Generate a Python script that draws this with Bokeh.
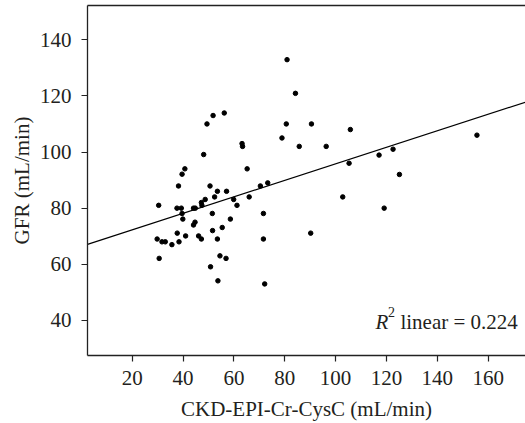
from bokeh.plotting import figure
from bokeh.models import Range1d, LinearAxis, FixedTicker, Label, ColumnDataSource
from bokeh.embed import file_html
from bokeh.resources import INLINE

# Data
ckd_epi = [80.9, 84.2, 51.8, 56.2, 30.4, 37.6, 39.3, 39.9, 39.6, 38.2,
           39.6, 40.7, 48.1, 49.4, 44.1, 44.8, 47.2, 47.4, 48.7, 50.6,
           52.4, 53.5, 57.1, 51.5, 58.6, 59.9, 61.2, 63.2, 63.4, 65.2,
           66.0, 70.4, 73.3, 71.6, 78.9, 80.6, 85.7, 90.5, 96.3, 44.1,
           44.7, 29.8, 31.7, 33.0, 35.6, 37.7, 38.4, 41.0, 46.1, 47.2,
           51.6, 53.5, 55.4, 30.6, 50.8, 54.5, 56.9, 53.7, 71.6, 72.1,
           90.2, 105.8, 105.3, 117.1, 122.6, 125.1, 102.8, 119.1, 155.6]
gfr = [132.9, 120.9, 113.0, 113.9, 81.0, 80.0, 80.0, 76.1, 78.1, 87.9,
       92.1, 94.0, 99.1, 110.0, 80.0, 80.0, 82.0, 81.0, 83.1, 87.9,
       84.0, 86.0, 86.0, 78.1, 76.1, 83.1, 81.0, 103.0, 102.0, 94.0,
       84.0, 87.9, 89.0, 78.1, 105.0, 110.0, 102.0, 110.0, 102.0, 74.0,
       75.0, 69.0, 68.0, 68.0, 67.0, 71.1, 68.0, 70.1, 70.1, 69.0,
       72.0, 69.0, 73.1, 62.1, 59.1, 63.0, 62.1, 54.1, 69.0, 53.0,
       71.1, 108.0, 96.0, 98.9, 101.0, 92.0, 84.0, 80.0, 106.0]

fit_intercept = 66.4
fit_slope = 0.294
r2_text = "linear = 0.224"

x_ticks = [20, 40, 60, 80, 100, 120, 140, 160]
y_ticks = [40, 60, 80, 100, 120, 140]

x_lo, x_hi = 2.4, 174.7
y_lo, y_hi = 27.5, 152.2

FONT = "Liberation Serif"
TXT = "#231f20"

p = figure(frame_width=438, frame_height=350, output_backend="svg",
           toolbar_location=None,
           x_range=Range1d(x_lo, x_hi), y_range=Range1d(y_lo, y_hi),
           min_border_left=87, min_border_top=5, min_border_right=0,
           min_border_bottom=0)
p.background_fill_color = "white"
p.border_fill_color = "white"
p.outline_line_color = None
p.xgrid.visible = False
p.ygrid.visible = False

for ax in (p.xaxis[0], p.yaxis[0]):
    ax.axis_line_color = "#222222"
    ax.axis_line_width = 1.3
    ax.major_tick_line_color = "#222222"
    ax.major_tick_line_width = 1.2
    ax.major_tick_out = 6
    ax.major_tick_in = 0
    ax.minor_tick_line_color = None
    ax.major_label_text_font = FONT
    ax.major_label_text_font_size = "21px"
    ax.major_label_text_color = TXT
    ax.axis_label_text_font = FONT
    ax.axis_label_text_font_size = "21px"
    ax.axis_label_text_font_style = "normal"
    ax.axis_label_text_color = TXT

p.xaxis[0].ticker = FixedTicker(ticks=x_ticks)
p.yaxis[0].ticker = FixedTicker(ticks=y_ticks)
p.xaxis[0].axis_label = "CKD-EPI-Cr-CysC (mL/min)"
p.yaxis[0].axis_label = "GFR (mL/min)"
p.xaxis[0].major_label_standoff = 9
p.xaxis[0].axis_label_standoff = 9
p.yaxis[0].major_label_standoff = 10
p.yaxis[0].axis_label_standoff = 3

# Top border (right side is cut off in the reference)
top = LinearAxis(ticker=FixedTicker(ticks=[]), axis_line_color="#222222",
                 axis_line_width=1.3, major_tick_line_color=None,
                 minor_tick_line_color=None, major_label_text_font_size="0px")
p.add_layout(top, "above")

# Regression line
lx = [x_lo, x_hi]
ly = [fit_intercept + fit_slope * v for v in lx]
p.line(lx, ly, line_color="black", line_width=1.2)

src = ColumnDataSource(dict(x=ckd_epi, y=gfr))
p.scatter("x", "y", source=src, size=4.5, fill_color="black", line_color="black")

# R^2 annotation
p.add_layout(Label(x=115.7, y=39.3, text="R", text_font=FONT, text_font_size="21px",
                   text_font_style="italic", text_color=TXT, text_baseline="alphabetic"))
p.add_layout(Label(x=120.6, y=43.1, text="2", text_font=FONT, text_font_size="14px",
                   text_color=TXT, text_baseline="alphabetic"))
p.add_layout(Label(x=125.5, y=39.3, text=r2_text, text_font=FONT, text_font_size="21px",
                   text_color=TXT, text_baseline="alphabetic"))

open("out.html", "w").write(file_html(p, INLINE))
